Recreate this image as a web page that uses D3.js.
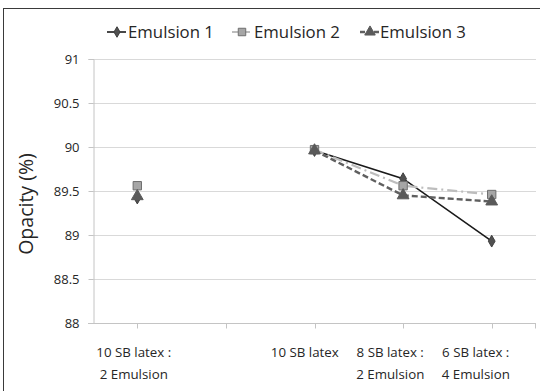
<!DOCTYPE html>
<html>
<head>
<meta charset="utf-8">
<script src="https://cdn.jsdelivr.net/npm/d3@7"></script>
<style>
  html, body { margin: 0; padding: 0; background: #fff; }
  svg { display: block; }
  text { font-family: "Open Sans", "Noto Sans", sans-serif; fill: #262626; }
</style>
</head>
<body>
<svg id="chart" width="540" height="391"></svg>
<script>
// ---- data ----
const categories = ["10 SB latex :\n2 Emulsion", "", "10 SB latex", "8 SB latex :\n2 Emulsion", "6 SB latex :\n4 Emulsion"];
const seriesNames = ["Emulsion 1", "Emulsion 2", "Emulsion 3"];
const emulsion1 = [89.42, null, 89.96, 89.64, 88.93];
const emulsion2 = [89.56, null, 89.97, 89.56, 89.46];
const emulsion3 = [89.44, null, 89.96, 89.45, 89.38];
const yTicks = [88, 88.5, 89, 89.5, 90, 90.5, 91];
const yLabel = "Opacity (%)";

const seriesValues = [emulsion1, emulsion2, emulsion3];
const styles = [
  {stroke: "#1a1a1a", width: 1.6, dash: null, marker: "diamond", fill: "#505050", mstroke: "#404040", msize: 40},
  {stroke: "#bdbdbd", width: 2.2, dash: "10,4,2,4", marker: "square", fill: "#a6a6a6", mstroke: "#6e6e6e", msize: 70},
  {stroke: "#5f5f5f", width: 2.4, dash: "6,3", marker: "triangle", fill: "#5a5a5a", mstroke: "#5a5a5a", msize: 60}
];

const svg = d3.select("#chart");

// outer border
svg.append("rect").attr("x", 3.5).attr("y", 8.5).attr("width", 545).attr("height", 400)
  .attr("fill", "none").attr("stroke", "#3a3a3a").attr("stroke-width", 1);

const pLeft = 93, pRight = 536, pTop = 59, pBottom = 323;

const x = d3.scalePoint().domain(d3.range(categories.length)).range([pLeft, pRight]).padding(0.5);
const xLab = d3.scalePoint().domain(d3.range(categories.length)).range([91, 518.5]).padding(0.5);
const y = d3.scaleLinear().domain([88, 91]).range([pBottom, pTop]);

// gridlines
svg.append("g").selectAll("line").data(yTicks.filter(t => t > 88)).join("line")
  .attr("x1", pLeft).attr("x2", pRight)
  .attr("y1", d => Math.round(y(d)) + 0.5).attr("y2", d => Math.round(y(d)) + 0.5)
  .attr("stroke", "#d9d9d9").attr("stroke-width", 1);

// y axis
const yAxis = svg.append("g").attr("transform", `translate(${pLeft + 0.5},0)`)
  .call(d3.axisLeft(y).tickValues(yTicks).tickSize(5).tickPadding(9).tickFormat(d => d3.format("")(d)));
yAxis.select(".domain").attr("stroke", "#c4c4c4");
yAxis.selectAll(".tick line").attr("stroke", "#c4c4c4");
yAxis.selectAll(".tick text").attr("font-size", 13).attr("fill", "#262626")
  .style("font-family", "'Open Sans', 'Noto Sans', sans-serif");

// x axis
const xg = svg.append("g").attr("transform", `translate(0,${Math.round(pBottom) + 0.5})`);
xg.append("line").attr("x1", pLeft - 5).attr("x2", pRight).attr("stroke", "#c4c4c4");
xg.selectAll("line.tk").data(d3.range(categories.length)).join("line").attr("class", "tk")
  .attr("x1", d => Math.round(x(d)) + 0.5).attr("x2", d => Math.round(x(d)) + 0.5)
  .attr("y1", 0).attr("y2", 5).attr("stroke", "#c4c4c4");
xg.append("line").attr("x1", pRight - 0.5).attr("x2", pRight - 0.5).attr("y1", 0).attr("y2", 5).attr("stroke", "#c4c4c4");

const labG = svg.append("g");
categories.forEach((c, i) => {
  const lines = c.split("\n");
  lines.forEach((ln, j) => {
    if (!ln) return;
    labG.append("text").attr("x", xLab(i)).attr("y", 357 + j * 22)
      .attr("text-anchor", "middle").attr("font-size", 13.3).text(ln);
  });
});

// y title
svg.append("text").attr("transform", "translate(33,204) rotate(-90)")
  .attr("text-anchor", "middle").attr("font-size", 19.5).attr("fill", "#262626").text(yLabel);

// series
const symbolType = {diamond: d3.symbolDiamond, square: d3.symbolSquare, triangle: d3.symbolTriangle};
const line = d3.line().defined(d => d.v != null).x(d => x(d.i)).y(d => y(d.v));

seriesValues.forEach((vals, s) => {
  const st = styles[s];
  const pts = vals.map((v, i) => ({i, v}));
  svg.append("path").datum(pts).attr("d", line)
    .attr("fill", "none").attr("stroke", st.stroke).attr("stroke-width", st.width)
    .attr("stroke-dasharray", st.dash);
});
seriesValues.forEach((vals, s) => {
  const st = styles[s];
  svg.append("g").selectAll("path").data(vals.map((v, i) => ({i, v})).filter(d => d.v != null)).join("path")
    .attr("transform", d => `translate(${x(d.i)},${y(d.v)})`)
    .attr("d", d3.symbol().type(symbolType[st.marker]).size(st.msize))
    .attr("fill", st.fill).attr("stroke", st.mstroke).attr("stroke-width", 1);
});

// legend
const legendItems = [
  {x0: 107, tx: 128},
  {x0: 232, tx: 254},
  {x0: 360, tx: 380}
];
seriesNames.forEach((name, s) => {
  const st = styles[s];
  const g = svg.append("g");
  const lx = legendItems[s].x0, ly = 32;
  g.append("line").attr("x1", lx).attr("x2", lx + 19).attr("y1", ly).attr("y2", ly)
    .attr("stroke", st.stroke).attr("stroke-width", st.width).attr("stroke-dasharray", s === 0 ? null : (s === 1 ? "6,2,2,2" : "5,2"));
  g.append("path").attr("transform", `translate(${lx + 10},${ly})`)
    .attr("d", d3.symbol().type(symbolType[st.marker]).size(st.msize * 0.8))
    .attr("fill", st.fill).attr("stroke", st.mstroke);
  g.append("text").attr("x", legendItems[s].tx).attr("y", ly + 6).attr("font-size", 16.8).text(name);
});
</script>
</body>
</html>
